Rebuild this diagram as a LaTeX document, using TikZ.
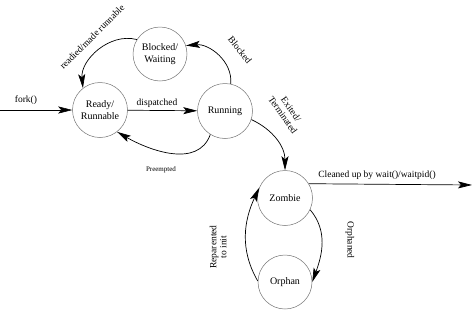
\documentclass[tikz,border=0pt]{standalone}
\usepackage{fontspec}
\setmainfont{Liberation Serif}
\usetikzlibrary{arrows.meta}
\begin{document}
\begin{tikzpicture}[x=1pt,y=-1pt,
  state/.style={circle,draw=black!55,line width=0.5pt,minimum size=55pt,inner sep=0pt,align=center,font=\fontsize{10}{11.5}\selectfont},
  arr/.style={draw=black,line width=0.7pt,-{Stealth[length=14pt,width=7pt,inset=3pt]}},
  lbl/.style={font=\fontsize{9.5}{10}\selectfont,inner sep=0pt,align=center},
  small/.style={font=\fontsize{7}{8}\selectfont,inner sep=0pt}]
\useasboundingbox (0,0) rectangle (474,311);
\node[state] (ready) at (100,110) {Ready/\\Runnable};
\node[state,minimum size=54pt] (blocked) at (160,54) {Blocked/\\Waiting};
\node[state] (running) at (225,111) {Running};
\node[state] (zombie) at (285,198) {Zombie};
\node[state,minimum size=54pt] (orphan) at (285,282) {Orphan};
\coordinate (forkstart) at (0,110);
\coordinate (cleanend) at (472,185);
% connectors
\draw[arr,line width=0.5pt] (forkstart) -- (ready);
\node[lbl] (lfork) at (26,100) {fork()};
\draw[arr] (ready) -- (running);
\node[lbl] (ldisp) at (157,103) {dispatched};
\draw[arr] (running.-122) to[out=-110,in=-30] (ready.-52);
\node[small] (lpre) at (161,170) {Preempted};
\draw[arr] (running.78) to[out=85,in=5] (blocked.18);
\node[lbl,rotate=-52] (lblk) at (240,50) {Blocked};
\draw[arr] (blocked.148) to[out=165,in=95] (ready.128);
\node[lbl,rotate=45] (lready) at (92,37) {readied/made runnable};
\draw[arr] (running.-18) to[out=-25,in=90] (zombie.north);
\node[lbl,rotate=-55] (lexit) at (287,112) {Exited/\\Terminated};
\draw[arr] (zombie.31) -- (cleanend);
\node[lbl] (lclean) at (377,175) {Cleaned up by wait()/waitpid()};
\draw[arr] (zombie.-25) to[out=-50,in=70] (orphan.0);
\node[lbl,rotate=-90] (lorph) at (350,240) {Orphaned};
\draw[arr] (orphan.178) to[out=120,in=-115] (zombie.158);
\node[lbl,rotate=90] (lrep) at (218,247) {Reparented\\to init};
\end{tikzpicture}
\end{document}
